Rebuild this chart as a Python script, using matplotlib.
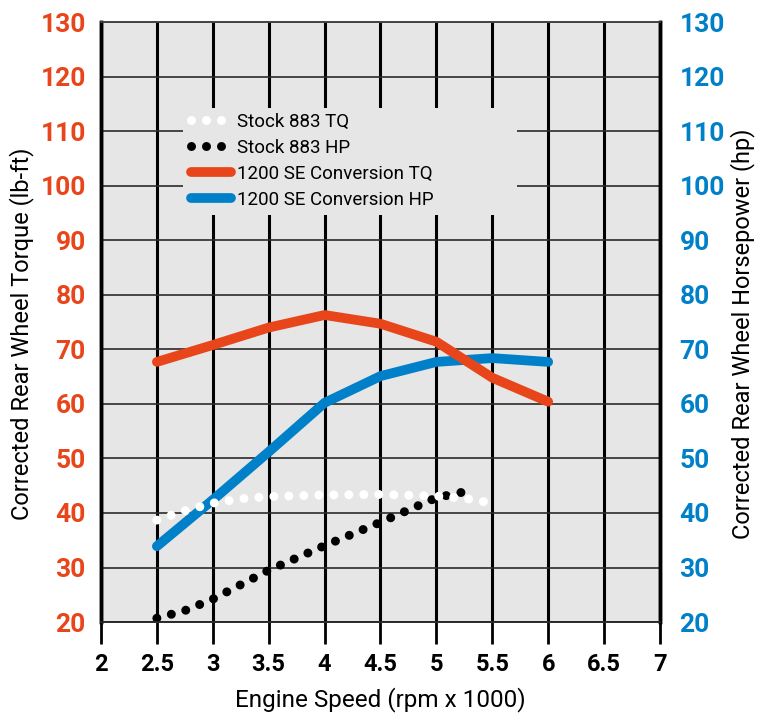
import matplotlib
matplotlib.use("Agg")
import matplotlib.pyplot as plt
from matplotlib.patches import Rectangle

# =====================================
# Data
# =====================================

rpm = [2.5, 3.0, 3.5, 4.0, 4.5, 5.0, 5.5, 6.0]

se_tq = [67.7, 70.8, 74.0, 76.3, 74.7, 71.4, 64.8, 60.4]
se_hp = [33.9, 42.4, 51.2, 60.2, 65.1, 67.7, 68.4, 67.7]

stock_tq_rpm = [2.5, 2.75, 3.0, 3.25, 3.5, 4.0, 4.5, 5.0, 5.25, 5.5]
stock_tq = [38.7, 40.4, 41.8, 42.6, 43.0, 43.3, 43.4, 43.1, 42.7, 41.8]

stock_hp_rpm = [2.5, 2.75, 3.0, 3.5, 4.0, 4.5, 5.0, 5.3]
stock_hp = [20.7, 22.1, 24.2, 29.5, 34.0, 38.3, 42.8, 44.1]

x_ticks = [2, 2.5, 3, 3.5, 4, 4.5, 5, 5.5, 6, 6.5, 7]
x_labels = ["2", "2.5", "3", "3.5", "4", "4.5", "5", "5.5", "6", "6.5", "7"]
y_ticks = [20, 30, 40, 50, 60, 70, 80, 90, 100, 110, 120, 130]

ORANGE = "#E8461A"
BLUE = "#0080C8"
GREY = "#E6E6E6"

plt.rcParams["font.family"] = ["Roboto", "DejaVu Sans"]

# =====================================
# Figure
# =====================================

fig = plt.figure(figsize=(7.58, 7.15), dpi=100)
ax = fig.add_axes([0.1332, 0.130, 0.7375, 0.839])
ax.set_facecolor(GREY)

ax.set_xlim(2, 7)
ax.set_ylim(20, 130)

# grid
for x in x_ticks:
    ax.axvline(x, color="black", linewidth=2.2, zorder=1)
for y in y_ticks:
    ax.axhline(y, color="#2a2a2a", linewidth=1.2, zorder=1)

# legend background box (covers the grid)
ax.add_patch(Rectangle((0.1467, 0.678), 0.597, 0.179, transform=ax.transAxes,
                       facecolor=GREY, edgecolor="none", zorder=2))

# =====================================
# Series
# =====================================

ax.plot(rpm, se_hp, color=BLUE, linewidth=7, solid_capstyle="round",
        solid_joinstyle="round", label="1200 SE Conversion HP", zorder=3)
ax.plot(rpm, se_tq, color=ORANGE, linewidth=7, solid_capstyle="round",
        solid_joinstyle="round", label="1200 SE Conversion TQ", zorder=4)
ax.plot(stock_hp_rpm, stock_hp, color="black", linewidth=6.5,
        linestyle=(0, (0.001, 1.66)), dash_capstyle="round",
        label="Stock 883 HP", zorder=5)
ax.plot(stock_tq_rpm, stock_tq, color="white", linewidth=6.5,
        linestyle=(0, (0.001, 1.66)), dash_capstyle="round",
        label="Stock 883 TQ", zorder=6)

# =====================================
# Axes styling
# =====================================

ax.set_xticks(x_ticks)
ax.set_xticklabels(x_labels, fontsize=17, fontweight="bold")
ax.tick_params(axis="x", length=16, width=2, color="black", pad=6)

ax.set_yticks(y_ticks)
ax.set_yticklabels([str(v) for v in y_ticks], fontsize=19,
                   fontweight="bold", color=ORANGE)
ax.tick_params(axis="y", length=0, pad=11)

ax2 = ax.twinx()
ax2.set_ylim(20, 130)
ax2.set_yticks(y_ticks)
ax2.set_yticklabels([str(v) for v in y_ticks], fontsize=19,
                    fontweight="bold", color=BLUE)
ax2.tick_params(axis="y", length=0, pad=14)

for a in (ax, ax2):
    a.spines["left"].set_linewidth(2.5)
    a.spines["right"].set_linewidth(2.5)
    a.spines["top"].set_linewidth(1.2)
    a.spines["top"].set_color("#444444")
    a.spines["bottom"].set_linewidth(1.2)
    a.spines["bottom"].set_color("#2a2a2a")

ax.set_xlabel("Engine Speed (rpm x 1000)", fontsize=17.5, labelpad=8)
ax.set_ylabel("Corrected Rear Wheel Torque (lb-ft)", fontsize=17)
ax2.set_ylabel("Corrected Rear Wheel Horsepower (hp)", fontsize=17)
ax.yaxis.set_label_coords(-0.12, 0.48)
ax2.yaxis.set_label_coords(1.126, 0.48)

# =====================================
# Legend
# =====================================

handles, labels = ax.get_legend_handles_labels()
order = [3, 2, 1, 0]
leg = ax.legend([handles[i] for i in order], [labels[i] for i in order],
                loc="upper left", bbox_to_anchor=(0.155, 0.855),
                fontsize=13.5, frameon=False, handlelength=2.1,
                handletextpad=0.35, labelspacing=0.42, borderpad=0.2,
                borderaxespad=0)
leg.set_zorder(7)

fig.savefig("out.png", dpi=100)
